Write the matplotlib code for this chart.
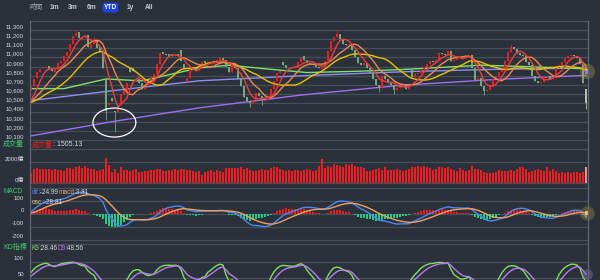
import numpy as np
import pandas as pd
import matplotlib
matplotlib.use('Agg')
import matplotlib.pyplot as plt
from matplotlib.patches import Ellipse, FancyBboxPatch
from matplotlib.lines import Line2D
from matplotlib.transforms import IdentityTransform

plt.rcParams['font.family'] = ['Liberation Sans', 'Noto Sans CJK TC', 'DejaVu Sans']

# daily index data (YTD)
opens = [
    10650, 10690, 10780, 10840, 10880, 10890, 10910, 10870, 10840, 10870,
    10940, 10960, 11010, 11070, 11150, 11230, 11280, 11200, 11220, 11240,
    11100, 11150, 11190, 11110, 11060, 10770, 10480, 10560, 10420, 10400,
    10480, 10600, 10620, 10890, 10880, 10740, 10760, 10720, 10660, 10690,
    10740, 10790, 10820, 10930, 11060, 11040, 11040, 11030, 11010, 11040,
    11080, 10930, 10730, 10780, 10900, 10880, 10860, 10930, 10960, 10940,
    10950, 10930, 10960, 10970, 10990, 10970, 10900, 10840, 10920, 10880,
    10760, 10690, 10570, 10530, 10500, 10540, 10610, 10580, 10520, 10540,
    10570, 10660, 10740, 10830, 10950, 10920, 10890, 10880, 10890, 10900,
    10950, 11010, 10970, 10940, 10930, 10920, 10900, 10870, 10890, 10960,
    11070, 11180, 11220, 11250, 11200, 11150, 11140, 11150, 11080, 11000,
    10940, 10920, 10940, 10880, 10830, 10760, 10700, 10670, 10800, 10760,
    10720, 10700, 10640, 10670, 10690, 10700, 10660, 10860, 10790, 10820,
    10830, 10860, 10900, 10930, 10960, 10950, 10970, 11050, 11040, 11030,
    11070, 10960, 10970, 11000, 10990, 11010, 11020, 11030, 10880, 10750,
    10780, 10690, 10630, 10650, 10700, 10760, 10800, 10840, 10860, 10960,
    11060, 11110, 11090, 11050, 11030, 11010, 10950, 10920, 10800, 10740,
    10720, 10730, 10790, 10800, 10770, 10780, 10880, 10920, 10950, 10990,
    11020, 11030, 11010, 10990, 10930, 10660,
]
closes = [
    10680, 10770, 10840, 10870, 10890, 10900, 10870, 10850, 10860, 10940,
    10960, 11010, 11060, 11150, 11230, 11270, 11210, 11220, 11240, 11110,
    11150, 11180, 11100, 11060, 10880, 10420, 10500, 10530, 10400, 10440,
    10600, 10640, 10720, 10840, 10850, 10760, 10720, 10660, 10680, 10740,
    10790, 10820, 10930, 11050, 11040, 11030, 11020, 11010, 11030, 11020,
    10960, 10870, 10780, 10880, 10880, 10860, 10930, 10950, 10940, 10950,
    10930, 10960, 10970, 10990, 10970, 10900, 10840, 10920, 10880, 10760,
    10690, 10570, 10530, 10500, 10540, 10610, 10580, 10520, 10540, 10570,
    10660, 10740, 10830, 10850, 10920, 10890, 10880, 10890, 10900, 10950,
    10990, 10970, 10940, 10930, 10920, 10900, 10880, 10890, 10960, 11070,
    11180, 11220, 11250, 11200, 11150, 11140, 11150, 11080, 11000, 10940,
    10920, 10940, 10880, 10830, 10760, 10700, 10670, 10800, 10760, 10720,
    10700, 10640, 10670, 10690, 10700, 10660, 10680, 10790, 10820, 10830,
    10860, 10900, 10930, 10960, 10950, 10970, 11050, 11040, 11030, 11070,
    10960, 10970, 11000, 10990, 11010, 11020, 11030, 10880, 10750, 10780,
    10690, 10630, 10650, 10700, 10760, 10800, 10840, 10860, 10960, 11060,
    11110, 11090, 11050, 11030, 11010, 10950, 10920, 10800, 10740, 10720,
    10730, 10790, 10800, 10770, 10780, 10880, 10920, 10950, 10990, 11020,
    11030, 11010, 10990, 10930, 10720, 10500,
]
# long wicks that show up on the chart (index: price)
wickLows = {25: 10320, 28: 10190, 73: 10460, 77: 10480, 116: 10620, 121: 10600, 151: 10590, 185: 10440}
wickHighs = {15: 11300, 21: 11230, 24: 11000, 102: 11300, 160: 11150}

# sessions before the window, estimated from where the short MAs start
priorCloses = [10480, 10500, 10510, 10470, 10460, 10500, 10520, 10530, 10510, 10490,
               10480, 10510, 10530, 10520, 10500, 10480, 10470, 10500, 10520]

# volume, 億
volumes = [
    1010, 1330, 1430, 1350, 1330, 1350, 1330, 1220, 1350, 1220,
    1270, 1200, 1430, 1430, 1330, 1520, 1650, 1430, 1650, 1430,
    1330, 1330, 1200, 1270, 1330, 2370, 1740, 1080, 1400, 1010,
    1550, 1270, 1270, 1200, 1270, 1330, 1100, 1100, 1200, 1200,
    1270, 1270, 1330, 1330, 1200, 1200, 1300, 1250, 1350, 1280,
    1400, 1320, 1260, 1270, 1210, 1110, 1200, 790, 1060, 1210,
    1270, 1110, 1270, 1210, 1110, 1490, 1430, 1460, 1490, 1490,
    1590, 1330, 1430, 1270, 1210, 1210, 1300, 1350, 1270, 1250,
    1450, 1590, 1590, 1330, 1270, 1210, 1270, 1210, 1300, 1270,
    1210, 1270, 1330, 1270, 1210, 1300, 1650, 2310, 1430, 1650,
    1590, 1840, 1750, 1650, 1590, 1840, 1750, 1840, 1650, 1590,
    1520, 1460, 1210, 1210, 1270, 1400, 1430, 1300, 1590, 1270,
    1270, 1270, 1330, 1270, 1210, 1270, 1400, 1520, 1590, 1650,
    1520, 1650, 1520, 1430, 1270, 1330, 1520, 1520, 1430, 1520,
    1330, 1270, 1210, 1430, 1270, 1210, 1270, 1650, 1330, 1330,
    1270, 1110, 1010, 1010, 1010, 1110, 1270, 1210, 1210, 1210,
    1270, 1210, 1330, 1520, 1520, 1330, 1110, 1210, 1270, 1330,
    1270, 1210, 1520, 1210, 1330, 1210, 1010, 1110, 1010, 1110,
    1010, 1050, 1110, 1010, 1110, 1505.13,
]

# long moving averages (index, value)
ma60Idx = [0, 11, 25, 37, 56, 66, 80, 92, 110, 125, 150, 165, 185]
ma60Val = [10660, 10660, 10765, 10745, 10885, 10915, 10870, 10835, 10850, 10870, 10915, 10900, 10875]
ma120Idx = [0, 28, 56, 90, 125, 155, 185]
ma120Val = [10530, 10640, 10745, 10800, 10845, 10870, 10885]
ma240Idx = [0, 28, 56, 90, 123, 155, 185]
ma240Val = [10145, 10305, 10450, 10590, 10695, 10760, 10805]

priceTicks = list(range(10100, 11401, 100))
rangeButtons = ['1m', '3m', '6m', 'YTD', '1y', 'All']

# header values shown on the chart
lastVolume = '1505.13'
lastDif, lastMacd, lastOsc = '-24.99', '3.81', '-28.81'
lastK, lastD = '28.46', '48.56'

# ---------- colours ----------
BG = '#2a313b'
GRID = '#464e59'
AXIS = '#5f6772'
TXT = '#d6dae0'
HEAD = '#3cc872'
RED = '#f21c1c'
GREEN = '#74a97a'
W, H = 600, 280
X0, X1 = 30, 588

n = len(closes)
idx = np.arange(n)
o = np.array(opens, dtype=float)
c = np.array(closes, dtype=float)

allClose = pd.Series(priorCloses + closes, dtype=float)
ma5 = allClose.rolling(5, min_periods=1).mean().values[len(priorCloses):]
ma10 = allClose.rolling(10, min_periods=1).mean().values[len(priorCloses):]
ma20 = allClose.rolling(20, min_periods=1).mean().values[len(priorCloses):]

ema12 = allClose.ewm(span=12, adjust=False).mean()
ema26 = allClose.ewm(span=26, adjust=False).mean()
dif = (ema12 - ema26)
macd = dif.ewm(span=9, adjust=False).mean()
dif = dif.values[len(priorCloses):]
macd = macd.values[len(priorCloses):]
osc = dif - macd

hi = np.maximum(o, c)
lo = np.minimum(o, c)
for k, v in wickHighs.items():
    hi[k] = v
for k, v in wickLows.items():
    lo[k] = v
h9 = pd.Series(hi).rolling(9, min_periods=1).max().values
l9 = pd.Series(lo).rolling(9, min_periods=1).min().values
rsv = (c - l9) / np.maximum(h9 - l9, 1) * 100
kLine, dLine = [], []
kPrev, dPrev = 50.0, 50.0
for r in rsv:
    kPrev = kPrev * 2 / 3 + r / 3
    dPrev = dPrev * 2 / 3 + kPrev / 3
    kLine.append(kPrev)
    dLine.append(dPrev)

fig = plt.figure(figsize=(W / 100, H / 100), dpi=100, facecolor=BG)


def panel(top, bottom, ylim, border=True):
    ax = fig.add_axes([X0 / W, 1 - bottom / H, (X1 - X0) / W, (bottom - top) / H])
    ax.set_facecolor(BG)
    ax.set_xlim(-0.33, n - 0.33)
    ax.set_ylim(*ylim)
    ax.set_xticks([])
    ax.set_yticks([])
    for sp in ax.spines.values():
        sp.set_visible(False)
    if border:
        ax.plot([0, 1], [1, 1], transform=ax.transAxes, color=GRID, lw=0.9, clip_on=False)
    return ax


def yLabel(ax, val, text):
    ax.axhline(val, color=GRID, lw=0.9, zorder=0, clip_on=False)
    if text:
        ax.annotate(text, xy=(0, val), xycoords=ax.get_yaxis_transform(), xytext=(-6, 3.2),
                    textcoords='offset pixels', ha='right', va='center', fontsize=4.3, color=TXT)


def textRow(xPx, yPx, pieces, size=4.7):
    renderer = fig.canvas.get_renderer()
    x = xPx
    for s, col in pieces:
        t = fig.text(x / W, 1 - yPx / H, s, color=col, fontsize=size, va='center', ha='left')
        x += t.get_window_extent(renderer).width


# ---------- price ----------
ax = panel(20.7, 140, (10100, 11400), border=False)
for v in priceTicks:
    yLabel(ax, v, f'{v:,}' if v < 11400 else '')
cols = np.where(c >= o, RED, GREEN)
cols[-1] = '#a9c4aa'
ax.vlines(idx, lo, hi, colors=cols, lw=0.6, zorder=3)
ax.bar(idx, np.maximum(np.abs(c - o), 5), bottom=np.minimum(o, c), width=0.62, color=cols, lw=0, zorder=3)
ax.plot(ma240Idx, ma240Val, color='#a06ef0', lw=1.0, zorder=2)
ax.plot(ma120Idx, ma120Val, color='#8c8ef2', lw=1.0, zorder=2)
ax.plot(ma60Idx, ma60Val, color='#7fe06a', lw=1.0, zorder=2)
ax.plot(idx, ma20, color='#e8c000', lw=1.0, zorder=4)
ax.plot(idx, ma10, color='#ea8a50', lw=1.0, zorder=4)
ax.plot(idx, ma5, color='#f03c3c', lw=1.0, zorder=4)
ax.add_patch(Ellipse((27.8, 10290), width=14.3, height=316, fill=False, ec='white', lw=0.9, zorder=6))
ax.scatter([n - 0.5], [ma20[-1]], s=120, color='#a8a040', alpha=0.35, lw=0, clip_on=False, zorder=5)
ax.scatter([n - 0.5], [ma20[-1]], s=6, marker='s', color='#f0c800', lw=0, clip_on=False, zorder=6)
ax.scatter([n - 0.5], [ma120Val[-1] - 40], s=6, marker='s', color='#9a7cf0', lw=0, clip_on=False, zorder=6)

# ---------- volume ----------
ax = panel(149.3, 185, (-162, 3238))
yLabel(ax, 2000, '2000億')
yLabel(ax, 0, '0億')
vcols = [RED] * n
vcols[-1] = '#f58c8c'
ax.bar(idx, volumes, width=0.62, color=vcols, lw=0, zorder=3)

# ---------- MACD ----------
ax = panel(187.7, 243.5, (-231, 206))
for v in [100, 0, -100, -200]:
    yLabel(ax, v, str(v))
ax.bar(idx, osc, width=0.62, color=np.where(osc >= 0, RED, '#20cc88'), lw=0, zorder=3)
ax.plot(idx, dif, color='#4f86f0', lw=1.0, zorder=4)
ax.plot(idx, macd, color='#eea064', lw=1.0, zorder=4)
ax.scatter([n - 0.5], [macd[-1]], s=110, color='#b09040', alpha=0.35, lw=0, clip_on=False, zorder=5)
ax.scatter([n - 0.5], [macd[-1]], s=6, marker='s', color='#f0c060', lw=0, clip_on=False, zorder=6)

# ---------- KD ----------
ax = panel(244, 280, (43.9, 154.3))
yLabel(ax, 100, '100')
yLabel(ax, 50, '50')
ax.plot(idx, kLine, color='#7ee05a', lw=1.0, zorder=4)
ax.plot(idx, dLine, color='#b57af0', lw=1.0, zorder=4)
ax.scatter([n - 0.5], [dLine[-1]], s=60, color='#9070c0', alpha=0.4, lw=0, clip_on=False, zorder=5)

# axis lines left/right
for xp in (X0, X1):
    fig.add_artist(Line2D([xp / W, xp / W], [0, 1 - 20.7 / H], color=AXIS, lw=0.9))

# ---------- headers ----------
textRow(3, 144.5, [('成交量', HEAD)], 5)
textRow(32, 145, [('成交量', RED), (': ' + lastVolume, TXT)], 5)
textRow(3, 191.5, [('MACD', HEAD)], 4.7)
textRow(32, 193, [('dif', '#4f86f0'), (':' + lastDif, TXT), ('macd', '#e8a878'), (':' + lastMacd, TXT)])
textRow(32, 203, [('osc', '#d8c27a'), (':' + lastOsc, TXT)])
textRow(3, 248, [('KD指標', HEAD)], 5)
textRow(32, 248.5, [('K9', '#7ee05a'), (':' + lastK, TXT), ('D9', '#b57af0'), (':' + lastD, TXT)])

# ---------- range selector ----------
fig.text(36 / W, 1 - 7.5 / H, '時間', color='#98a0aa', fontsize=4.8, ha='center', va='center')
btnX = [54, 72.5, 92, 110.5, 130, 149.5]
for label, xp in zip(rangeButtons, btnX):
    if label == 'YTD':
        fig.add_artist(FancyBboxPatch((xp - 8, H - 12.5), 16, 10, boxstyle='round,pad=0,rounding_size=3',
                                      transform=IdentityTransform(), fc='#1d44dc', ec='none'))
        fig.text(xp / W, 1 - 7.5 / H, label, color='white', fontsize=4.8, fontweight='bold', ha='center', va='center')
    else:
        fig.text(xp / W, 1 - 7.5 / H, label, color='#c4c9d2', fontsize=4.8, fontweight='bold', ha='center', va='center')

fig.savefig('out.png', dpi=100, facecolor=BG)
